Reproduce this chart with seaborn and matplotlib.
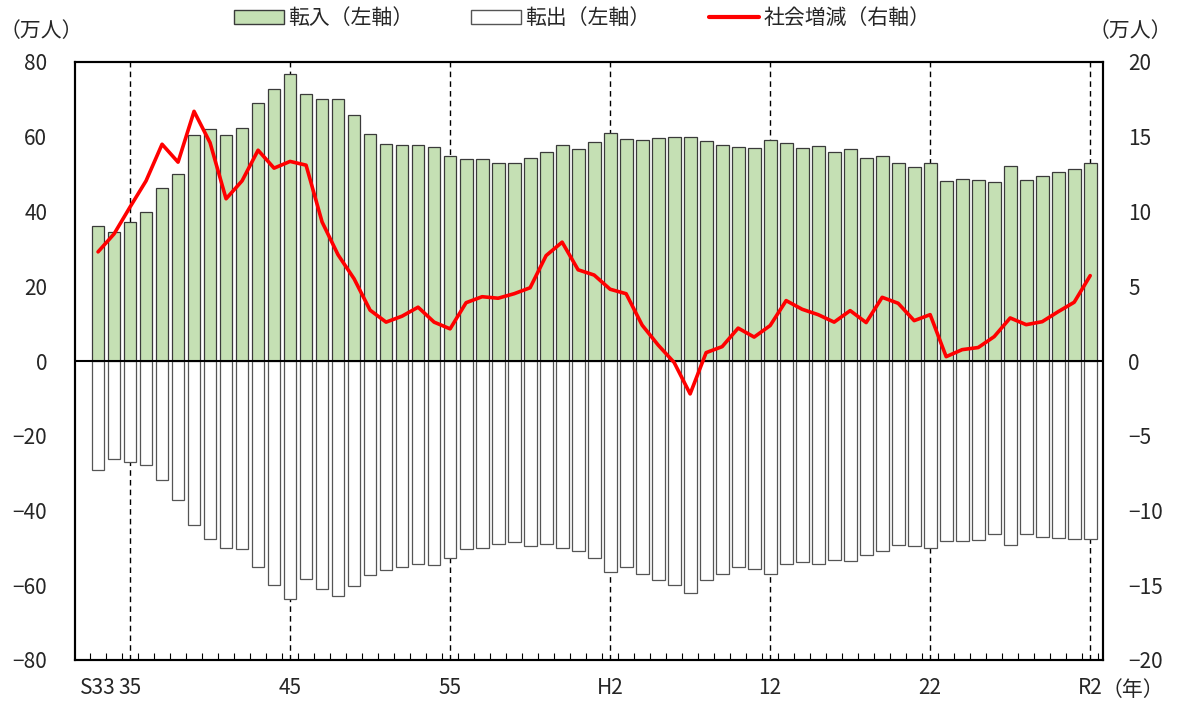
import numpy as np
import pandas as pd
import seaborn as sns
import matplotlib.pyplot as plt
from matplotlib.patches import Patch
from matplotlib.lines import Line2D

# Years S33 (1958) .. R2 (2020)
years = list(range(1958, 2021))

# 転入 (left axis, 万人)
inflow = [
    36.2, 34.6, 37.3, 39.8, 46.3, 50.1, 60.4, 62.1, 60.5, 62.3,
    69.0, 72.8, 76.9, 71.4, 70.1, 70.1, 65.8, 60.7, 58.1, 57.9,
    57.7, 57.2, 54.8, 54.0, 54.0, 52.9, 52.9, 54.3, 55.9, 57.9,
    56.7, 58.6, 61.0, 59.5, 59.2, 59.6, 59.9, 59.8, 58.9, 57.9,
    57.2, 57.1, 59.0, 58.3, 57.1, 57.4, 55.9, 56.7, 54.3, 54.8,
    52.9, 51.9, 52.9, 48.2, 48.7, 48.5, 47.8, 52.1, 48.5, 49.5,
    50.6, 51.3, 53.1,
]

# 転出 (left axis, 万人, negative)
outflow = [
    -29.1, -26.3, -27.0, -27.9, -31.9, -37.1, -43.8, -47.7, -49.9, -50.4,
    -55.1, -59.9, -63.8, -58.4, -61.0, -63.0, -60.1, -57.3, -55.8, -55.0,
    -54.2, -54.7, -52.7, -50.2, -50.0, -48.9, -48.4, -49.6, -48.9, -50.0,
    -50.8, -52.8, -56.4, -55.2, -57.0, -58.7, -59.8, -62.1, -58.6, -57.0,
    -55.2, -55.7, -56.9, -54.3, -53.8, -54.3, -53.3, -53.5, -51.9, -50.8,
    -49.2, -49.4, -50.0, -48.1, -48.1, -47.8, -46.3, -49.3, -46.3, -47.1,
    -47.4, -47.5, -47.5,
]

# 社会増減 (right axis, 万人)
net = [
    7.3, 8.5, 10.3, 12.05, 14.5, 13.3, 16.7, 14.6, 10.85, 12.05,
    14.1, 12.9, 13.35, 13.1, 9.3, 7.1, 5.5, 3.4, 2.6, 3.0,
    3.6, 2.6, 2.15, 3.9, 4.3, 4.2, 4.5, 4.9, 7.05, 7.95,
    6.1, 5.75, 4.8, 4.5, 2.4, 1.07, -0.1, -2.2, 0.56, 0.96,
    2.2, 1.6, 2.37, 4.04, 3.46, 3.1, 2.6, 3.37, 2.57, 4.26,
    3.86, 2.7, 3.1, 0.29, 0.76, 0.9, 1.63, 2.88, 2.43, 2.63,
    3.3, 3.93, 5.71,
]

tick_pos = [0, 2, 12, 22, 32, 42, 52, 62]
tick_labels = ["S33", "35", "45", "55", "H2", "12", "22", "R2"]

GREEN = "#c5e0b4"

sns.set_style("white")
plt.rcParams["font.family"] = ["Noto Sans CJK JP", "DejaVu Sans"]

df = pd.DataFrame({
    "idx": range(len(years)),
    "inflow": inflow,
    "outflow": outflow,
    "net": net,
})

fig = plt.figure(figsize=(11.78, 7.05), dpi=100)
ax = fig.add_axes([75 / 1178, 45 / 705, 1028 / 1178, 598 / 705])

sns.barplot(data=df, x="idx", y="inflow", color=GREEN, saturation=1,
            edgecolor="#3a3a3a", linewidth=0.9, width=0.8, ax=ax)
sns.barplot(data=df, x="idx", y="outflow", color="white", saturation=1,
            edgecolor="#555555", linewidth=0.9, width=0.8, ax=ax)

# dashed year guides behind the bars
for p in tick_pos[1:]:
    ax.axvline(p, color="black", lw=1.0, ls=(0, (4, 3)), zorder=0.5)
ax.axhline(0, color="black", lw=1.5, zorder=3)

ax.set_ylim(-80, 80)
ax.set_yticks(range(-80, 81, 20))
ax.set_xticks(tick_pos, tick_labels)
ax.set_xticks(np.arange(-0.5, 63, 1), minor=True)
ax.set_xlim(-1.44, 62.8)
ax.set_xlabel("")
ax.set_ylabel("")
ax.tick_params(axis="y", length=0, pad=20, labelsize=15)
ax.tick_params(axis="x", which="major", length=0, pad=12, labelsize=15)
ax.tick_params(axis="x", which="minor", direction="in", length=5,
               width=0.8, bottom=True, color="black")

ax2 = ax.twinx()
sns.lineplot(data=df, x="idx", y="net", color="#ff0000", lw=2.6, ax=ax2)
ax2.set_ylim(-20, 20)
ax2.set_yticks(range(-20, 21, 5))
ax2.set_ylabel("")
ax2.tick_params(axis="y", length=0, pad=18, labelsize=15)
ax2.set_xlim(-1.44, 62.8)

for a in (ax, ax2):
    for s in a.spines.values():
        s.set_visible(True)
        s.set_color("black")
        s.set_linewidth(1.5)

handles = [
    Patch(facecolor=GREEN, edgecolor="#3a3a3a"),
    Patch(facecolor="white", edgecolor="#555555"),
    Line2D([], [], color="#ff0000", lw=3),
]
labels = ["転入（左軸）", "転出（左軸）", "社会増減（右軸）"]
fig.legend(handles, labels, loc="center", bbox_to_anchor=(0.494, 0.974),
           ncol=3, frameon=False, fontsize=15, handlelength=2.4,
           handleheight=0.6, columnspacing=2.8, handletextpad=0.2)

fig.text(0 / 1178, 1 - 31 / 705, "（万人）", ha="left", va="center", fontsize=15)
fig.text(1172 / 1178, 1 - 31 / 705, "（万人）", ha="right", va="center", fontsize=15)
fig.text(1102 / 1178, 1 - 690 / 705, "（年）", ha="left", va="center", fontsize=15)

fig.savefig("out.png", dpi=100)
